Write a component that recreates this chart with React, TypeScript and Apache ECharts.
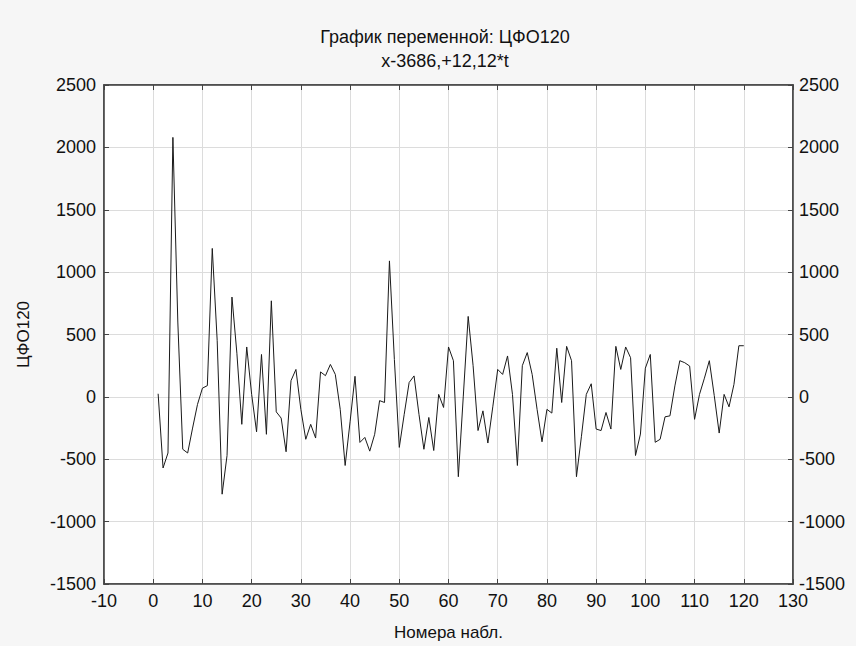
import React, { useEffect, useRef } from "react";
import * as echarts from "echarts";

const TITLE = "График переменной: ЦФО120";
const SUBTITLE = "x-3686,+12,12*t";
const X_NAME = "Номера набл.";
const Y_NAME = "ЦФО120";

// Observation numbers 1..120
const OBS: number[] = Array.from({ length: 120 }, (_, i) => i + 1);

// Values of ЦФО120
const VALUES: number[] = [
  25, -570, -450, 2080, 600, -420, -450, -250, -60, 70,
  90, 1190, 450, -780, -470, 800, 350, -220, 400, 20,
  -280, 340, -300, 770, -120, -170, -440, 130, 220, -100,
  -340, -220, -330, 200, 170, 260, 180, -100, -550, -200,
  165, -365, -325, -435, -300, -30, -45, 1090, 300, -405,
  -140, 115, 168, -140, -420, -165, -430, 20, -85, 400,
  290, -640, 0, 645, 250, -270, -112, -370, -80, 220,
  180, 328, 20, -550, 250, 355, 180, -100, -360, -100,
  -130, 390, -45, 405, 290, -640, -320, 20, 105, -258,
  -270, -125, -258, 405, 220, 400, 314, -470, -298, 230,
  340, -364, -340, -160, -152, 88, 290, 274, 247, -180,
  20, 150, 290, 10, -290, 20, -80, 100, 410, 410,
];

const X_MIN = -10;
const X_MAX = 130;
const X_STEP = 10;
const Y_MIN = -1500;
const Y_MAX = 2500;
const Y_STEP = 500;

export default function App() {
  const ref = useRef<HTMLDivElement>(null);

  useEffect(() => {
    document.body.style.margin = "0";
    if (!ref.current) return;
    const chart = echarts.init(ref.current, undefined, { renderer: "svg" });
    const font = "'Liberation Sans', Arial, sans-serif";
    const labelStyle = { color: "#111", fontSize: 18, fontFamily: font };
    const axisLine = { show: true, onZero: false, lineStyle: { color: "#444", width: 1.5 } };
    const tick = { show: true, inside: true, length: 5, lineStyle: { color: "#444" } };
    const split = { show: true, lineStyle: { color: "#dcdcdc", width: 1 } };
    const fmt = (v: number) => String(v);

    chart.setOption({
      animation: false,
      backgroundColor: "#f6f6f6",
      title: [
        {
          text: TITLE,
          left: 440,
          top: 23,
          textAlign: "center",
          textStyle: { color: "#111", fontSize: 18, fontWeight: "normal", fontFamily: font },
        },
        {
          text: SUBTITLE,
          left: 440,
          top: 47,
          textAlign: "center",
          textStyle: { color: "#111", fontSize: 18, fontWeight: "normal", fontFamily: font },
        },
      ],
      grid: {
        left: 104,
        right: 63,
        top: 85,
        bottom: 61,
        show: true,
        backgroundColor: "#ffffff",
        borderColor: "#444",
        borderWidth: 1.5,
      },
      xAxis: [
        {
          type: "value",
          position: "bottom",
          min: X_MIN,
          max: X_MAX,
          interval: X_STEP,
          name: X_NAME,
          nameLocation: "middle",
          nameGap: 40,
          nameTextStyle: { ...labelStyle, fontSize: 17 },
          axisLine,
          axisTick: tick,
          axisLabel: { ...labelStyle, margin: 8, formatter: fmt },
          splitLine: split,
        },
        {
          type: "value",
          position: "top",
          min: X_MIN,
          max: X_MAX,
          interval: X_STEP,
          axisLine,
          axisTick: tick,
          axisLabel: { show: false },
          splitLine: { show: false },
        },
      ],
      yAxis: [
        {
          type: "value",
          position: "left",
          min: Y_MIN,
          max: Y_MAX,
          interval: Y_STEP,
          name: Y_NAME,
          nameLocation: "middle",
          nameGap: 72,
          nameTextStyle: { ...labelStyle, fontSize: 17 },
          axisLine,
          axisTick: tick,
          axisLabel: { ...labelStyle, margin: 8, formatter: fmt },
          splitLine: split,
        },
        {
          type: "value",
          position: "right",
          min: Y_MIN,
          max: Y_MAX,
          interval: Y_STEP,
          axisLine,
          axisTick: tick,
          axisLabel: { ...labelStyle, margin: 6, formatter: fmt },
          splitLine: { show: false },
        },
      ],
      series: [
        {
          type: "line",
          data: OBS.map((n, i) => [n, VALUES[i]]),
          showSymbol: false,
          symbol: "none",
          lineStyle: { color: "#1a1a1a", width: 1 },
          xAxisIndex: 0,
          yAxisIndex: 0,
        },
      ],
    });
    return () => chart.dispose();
  }, []);

  return <div ref={ref} style={{ width: 856, height: 646 }} />;
}
